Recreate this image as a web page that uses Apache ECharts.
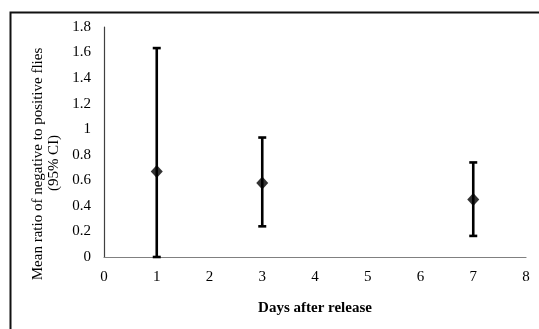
<!DOCTYPE html>
<html><head><meta charset="utf-8">
<script src="https://cdn.jsdelivr.net/npm/echarts@6/dist/echarts.min.js"></script>
<style>html,body{margin:0;padding:0;background:#fff;}#c{width:539px;height:329px;}</style>
</head><body><div id="c"></div>
<script>
const days = [1, 3, 7];
const means = [0.67, 0.58, 0.45];
const lowerCI = [0, 0.24, 0.165];
const upperCI = [1.635, 0.935, 0.74];
const xTitle = 'Days after release';
const yTitleLines = ['Mean ratio of negative to positive flies', '(95% CI)'];

const font = 'Liberation Serif';
const chart = echarts.init(document.getElementById('c'));
chart.setOption({
  animation: false,
  backgroundColor: '#fff',
  graphic: [
    {type:'rect', left:8, top:10, shape:{width:700, height:500}, style:{fill:'none', stroke:'#111', lineWidth:2}, z:-1},
    {type:'text', x:38, y:164, rotation:Math.PI/2,
     style:{text:yTitleLines[0], font:'15px "Liberation Serif"', fill:'#000', textAlign:'center', textVerticalAlign:'middle'}},
    {type:'text', x:54, y:163, rotation:Math.PI/2,
     style:{text:yTitleLines[1], font:'15px "Liberation Serif"', fill:'#000', textAlign:'center', textVerticalAlign:'middle'}}
  ],
  grid: {left:104, right:13, top:27, bottom:72},
  xAxis: {
    type:'value', min:0, max:8, interval:1,
    name: xTitle, nameLocation:'middle', nameGap:44,
    nameTextStyle:{fontFamily:font, fontSize:15, fontWeight:'bold', color:'#000'},
    axisLine:{show:true, onZero:false, lineStyle:{color:'#808080', width:1.2}},
    axisTick:{show:false}, splitLine:{show:false},
    axisLabel:{fontFamily:font, fontSize:15, color:'#000', margin:13}
  },
  yAxis: {
    type:'value', min:0, max:1.8, interval:0.2,
    axisLine:{show:true, lineStyle:{color:'#404040', width:1.2}},
    axisTick:{show:false}, splitLine:{show:false},
    axisLabel:{fontFamily:font, fontSize:15, color:'#000', margin:13}
  },
  series: [
    {
      type:'custom',
      data: days.map((d,i)=>[d, lowerCI[i], upperCI[i]]),
      renderItem: function(params, api){
        const top = api.coord([api.value(0), api.value(2)]);
        const bot = api.coord([api.value(0), api.value(1)]);
        const w = 4;
        const st = {stroke:'#000', lineWidth:2.6};
        return {type:'group', children:[
          {type:'line', shape:{x1:top[0], y1:top[1], x2:bot[0], y2:bot[1]}, style:st},
          {type:'line', shape:{x1:top[0]-w, y1:top[1], x2:top[0]+w, y2:top[1]}, style:st},
          {type:'line', shape:{x1:bot[0]-w, y1:bot[1], x2:bot[0]+w, y2:bot[1]}, style:st}
        ]};
      },
      z: 2
    },
    {
      type:'scatter', symbol:'diamond', symbolSize:[12,13],
      itemStyle:{color:'#000'},
      data: days.map((d,i)=>[d, means[i]]),
      z: 3
    }
  ]
});
</script></body></html>
